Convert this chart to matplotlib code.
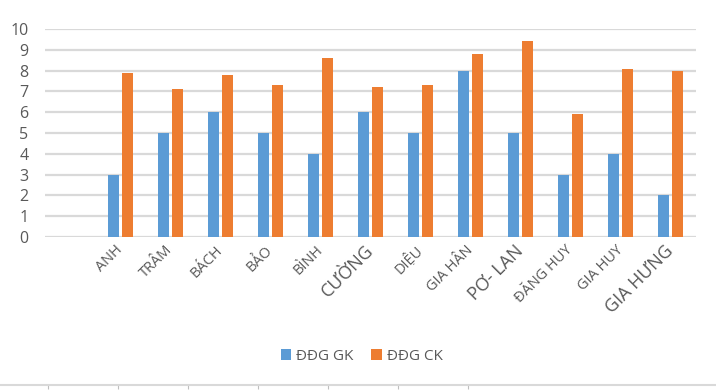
import matplotlib.pyplot as plt
import numpy as np

# Dữ liệu
names = ["", "ANH", "TRÂM", "BÁCH", "BẢO", "BÌNH", "CƯỜNG", "DIỆU",
         "GIA HÂN", "PƠ- LAN", "ĐĂNG HUY", "GIA HUY", "GIA HƯNG"]
gk = [np.nan, 3, 5, 6, 5, 4, 6, 5, 8, 5, 3, 4, 2]
ck = [np.nan, 7.9, 7.1, 7.8, 7.3, 8.6, 7.2, 7.3, 8.8, 9.4, 5.9, 8.1, 8.0]
big_labels = ["CƯỜNG", "PƠ- LAN", "GIA HƯNG"]
yticks = list(range(0, 11))

blue = "#5b9bd5"
orange = "#ed7d31"
text_col = "#595959"
grid_col = "#d9d9d9"

plt.rcParams['font.family'] = ['Open Sans', 'DejaVu Sans']

fig = plt.figure(figsize=(7.16, 3.9), dpi=100)
ax = fig.add_axes([45 / 716, 153 / 390, 651 / 716, 208 / 390])

x = np.arange(len(names))
w = 0.22
ax.bar(x - 0.14, gk, width=w, color=blue, label="ĐĐG GK", zorder=3)
ax.bar(x + 0.14, ck, width=w, color=orange, label="ĐĐG CK", zorder=3)

ax.set_xlim(-0.5, len(names) - 0.5)
ax.set_ylim(0, 10)
ax.set_yticks(yticks)
ax.yaxis.grid(True, color=grid_col, linewidth=1.6, zorder=0)
for s in ax.spines.values():
    s.set_visible(False)
ax.tick_params(axis='y', length=0, labelsize=11.5, labelcolor=text_col, pad=12)
ax.tick_params(axis='x', length=0, pad=8)

ax.set_xticks(x)
ax.set_xticklabels(names)
for lbl in ax.get_xticklabels():
    big = lbl.get_text() in big_labels
    lbl.set_rotation(45)
    lbl.set_rotation_mode('anchor')
    lbl.set_ha('right')
    lbl.set_va('center')
    lbl.set_fontsize(13 if big else 10.5)
    lbl.set_color(text_col)

fig.legend(loc='center', bbox_to_anchor=(0.505, 1 - 356 / 390), ncol=2,
           frameon=False, fontsize=11, labelcolor=text_col,
           handlelength=0.7, handleheight=0.7, handletextpad=0.3,
           columnspacing=1.2)

# Trục của biểu đồ bên dưới (bị cắt)
ax2 = fig.add_axes([0, 0, 1, 5 / 390])
ax2.set_xlim(0, 716)
ax2.set_ylim(0, 1)
for side in ['left', 'right', 'bottom']:
    ax2.spines[side].set_visible(False)
ax2.spines['top'].set_color(grid_col)
ax2.spines['top'].set_linewidth(1.5)
ax2.set_yticks([])
ax2.set_xticks([48, 118, 188, 258, 328, 398, 468])
ax2.xaxis.set_ticks_position('top')
ax2.tick_params(axis='x', direction='in', length=3, color='#bfbfbf',
                labeltop=False, labelbottom=False)
ax2.patch.set_alpha(0)

fig.savefig("out.png", dpi=100)
